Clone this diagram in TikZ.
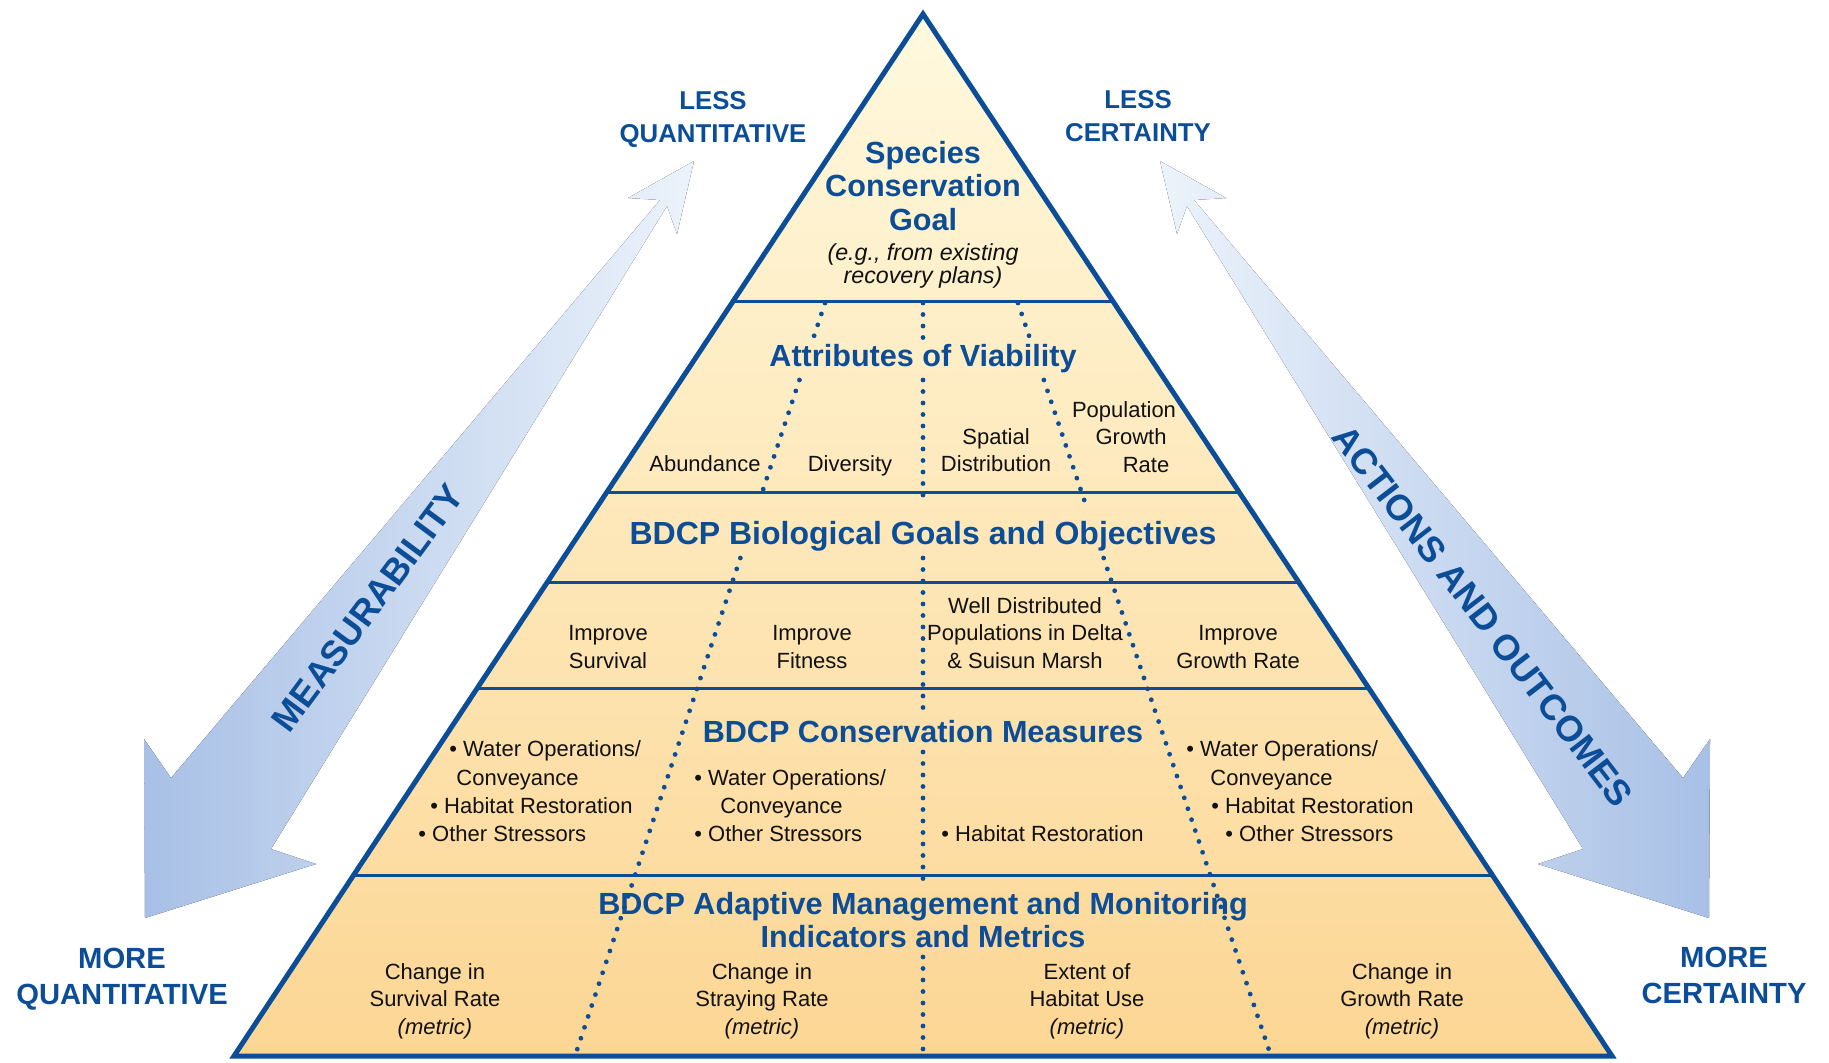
\documentclass[tikz,border=0pt]{standalone}
\usepackage{fontspec}
\setmainfont{Liberation Sans}
\usetikzlibrary{calc}
\definecolor{pyrblue}{RGB}{12,77,152}
\definecolor{pyrtop}{RGB}{255,249,222}
\definecolor{pyrbot}{RGB}{252,214,148}
\definecolor{arwdark}{RGB}{168,192,230}
\definecolor{arwlight}{RGB}{236,243,251}
\definecolor{ink}{RGB}{17,17,17}
\tikzset{
  ttl/.style={font=\fontsize{15.3}{16.6}\selectfont\bfseries,text=pyrblue,align=center},
  lbl/.style={font=\fontsize{11}{13.8}\selectfont,text=ink,align=center},
  blt/.style={font=\fontsize{11}{13.8}\selectfont,text=ink,anchor=base west,inner sep=0pt},
  corner/.style={font=\fontsize{12.9}{16.5}\selectfont\bfseries,text=pyrblue,align=center},
  bigcorner/.style={font=\fontsize{14.6}{18}\selectfont\bfseries,text=pyrblue,align=center},
  dots/.style={pyrblue,line width=2.4pt,line cap=round,dash pattern=on 0pt off 5.75pt}
}
\begin{document}
\begin{tikzpicture}[x=0.5pt,y=-0.5pt]
\useasboundingbox (0,0) rectangle (1829,1062);
\coordinate (apex) at (923,14);
\coordinate (bl) at (234,1056);
\coordinate (br) at (1612,1056);
% side arrows
\fill[left color=arwdark,right color=arwlight] (694,161) -- (677,234) -- (667,206)
  -- (271,849) -- (316,864) -- (145,918) -- (144,739) -- (171,778)
  -- (660,200) -- (628,198) -- cycle;
\fill[left color=arwlight,right color=arwdark] (1160,161) -- (1177,234) -- (1187,206)
  -- (1583,849) -- (1538,864) -- (1709,918) -- (1710,739) -- (1683,778)
  -- (1194,200) -- (1226,198) -- cycle;
% pyramid
\shade[top color=pyrtop,bottom color=pyrbot] (apex) -- (br) -- (bl) -- cycle;
\foreach \y in {301,492,582,688,875}
  \draw[pyrblue,line width=1.5pt] ($(apex)!{(\y-14)/1042}!(bl)$) -- ($(apex)!{(\y-14)/1042}!(br)$);
% dotted dividers
\coordinate (dl1) at (825,303); \coordinate (dl2) at (575,1056);
\coordinate (dc1) at (923,303); \coordinate (dc2) at (923,1056);
\coordinate (dr1) at (1018,303); \coordinate (dr2) at (1271,1056);
\foreach \a/\b in {303/342,380/500,558/1056}{
  \draw[dots] ($(dl1)!{(\a-303)/753}!(dl2)$) -- ($(dl1)!{(\b-303)/753}!(dl2)$);
  \draw[dots] ($(dr1)!{(\a-303)/753}!(dr2)$) -- ($(dr1)!{(\b-303)/753}!(dr2)$);
}
\foreach \a/\b in {303/342,380/500,558/710,752/883,957/1056}
  \draw[dots] ($(dc1)!{(\a-303)/753}!(dc2)$) -- ($(dc1)!{(\b-303)/753}!(dc2)$);
\draw[pyrblue,line width=2.5pt,line join=miter] (apex) -- (br) -- (bl) -- cycle;
% corner labels
\node[corner] (lessq) at (713,120) {LESS\\QUANTITATIVE};
\node[corner] (lessc) at (1138,116) {LESS\\CERTAINTY};
\node[bigcorner] (moreq) at (122,979) {MORE\\QUANTITATIVE};
\node[bigcorner] (morec) at (1724,975) {MORE\\CERTAINTY};
\node[font=\fontsize{18}{20}\selectfont\bfseries,text=pyrblue,rotate=53.5] (meas) at (368,608) {MEASURABILITY};
\node[font=\fontsize{18}{20}\selectfont\bfseries,text=pyrblue,rotate=-52.5] (acts) at (1483,616) {ACTIONS AND OUTCOMES};
% goal
\node[ttl] (goal) at (923,186) {Species\\Conservation\\Goal};
\node[lbl,font=\fontsize{11.6}{11.7}\selectfont\itshape] (eg) at (923,266) {(e.g., from existing\\recovery plans)};
% attributes
\node[ttl] (attr) at (923,359) {Attributes of Viability};
\node[lbl] (abun) at (705,464) {Abundance};
\node[lbl] (divr) at (850,466) {Diversity};
\node[lbl] (spat) at (996,450) {Spatial\\Distribution};
\node[lbl] (popg) at (1124,437) {Population\\\hspace*{0.64em}Growth\\\hspace*{2em}Rate};
% biological goals
\node[ttl,font=\fontsize{16}{17}\selectfont\bfseries] (bio) at (923,536) {BDCP Biological Goals and Objectives};
\node[lbl] (isurv) at (608,647) {Improve\\Survival};
\node[lbl] (ifit) at (812,647) {Improve\\Fitness};
\node[lbl] (wdist) at (1025,633) {Well Distributed\\Populations in Delta\\\& Suisun Marsh};
\node[lbl] (igrow) at (1238,647) {Improve\\Growth Rate};
% conservation measures
\node[ttl] (cons) at (923,732) {BDCP Conservation Measures};
\node[blt] (wo1) at (449,756) {• Water Operations/};
\node[blt] (cv1) at (456,785) {Conveyance};
\node[blt] (hr1) at (430,813) {• Habitat Restoration};
\node[blt] (os1) at (418,841) {• Other Stressors};
\node[blt] (wo2) at (694,785) {• Water Operations/};
\node[blt] (cv2) at (720,813) {Conveyance};
\node[blt] (os2) at (694,841) {• Other Stressors};
\node[blt] (hr3) at (941,841) {• Habitat Restoration};
\node[blt] (wo4) at (1186,756) {• Water Operations/};
\node[blt] (cv4) at (1210,785) {Conveyance};
\node[blt] (hr4) at (1211,813) {• Habitat Restoration};
\node[blt] (os4) at (1225,841) {• Other Stressors};
% monitoring
\node[ttl,font=\fontsize{15.3}{16.5}\selectfont\bfseries] (amm) at (923,920) {BDCP Adaptive Management and Monitoring\\Indicators and Metrics};
\node[lbl] (msurv) at (435,1001) {Change in\\Survival Rate\\\textit{(metric)}};
\node[lbl] (mstray) at (762,1001) {Change in\\Straying Rate\\\textit{(metric)}};
\node[lbl] (mhab) at (1087,1001) {Extent of\\Habitat Use\\\textit{(metric)}};
\node[lbl] (mgrow) at (1402,1001) {Change in\\Growth Rate\\\textit{(metric)}};
\end{tikzpicture}
\end{document}
